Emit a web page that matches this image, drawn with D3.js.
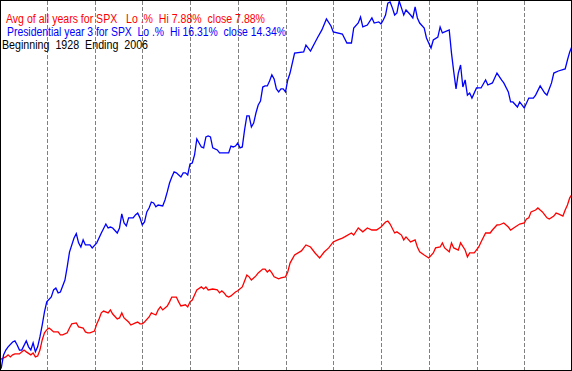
<!DOCTYPE html>
<html>
<head>
<meta charset="utf-8">
<script src="https://cdn.jsdelivr.net/npm/d3@7"></script>
<style>
  body { margin: 0; background: #fff; }
  svg { display: block; }
  text { font-family: "Liberation Sans", Arial, sans-serif; font-size: 12px; white-space: pre; }
</style>
</head>
<body>
<svg id="chart" width="572" height="371"></svg>
<script>
// trading day of the year -> cumulative % change
const avgDays = [0,1,3,4,5,6,7,9,10,11,12,14,15,16,17,18,19,20,21,22,23,24,26,27,28,30,31,32,34,35,37,38,39,40,42,43,44,45,46,48,49,50,52,53,54,55,56,57,58,60,61,62,63,64,66,67,68,69,70,71,72,74,75,76,78,79,80,82,83,84,85,86,87,89,90,91,92,94,96,97,98,99,100,101,102,104,105,107,108,109,110,111,113,114,116,117,118,119,120,121,123,124,126,127,128,130,133,135,137,139,141,143,145,147,149,151,152,155,156,158,160,162,164,166,168,170,171,172,174,175,177,178,179,181,183,184,185,187,189,191,192,194,195,196,198,199,200,202,203,205,206,207,209,211,212,214,216,217,219,220,222,224,225,227,229,231,232,233,234,236,237,238,239,240,241,242,244,245,246,248,249,250,251,252];
const avgValues = [0.54,0.71,0.80,0.89,0.80,0.89,0.93,0.93,1.02,1.10,1.02,0.89,0.97,0.80,0.84,1.10,1.54,1.85,1.98,2.06,1.98,1.89,1.89,1.76,1.76,1.85,2.06,2.24,2.28,2.11,2.06,1.89,1.85,1.85,1.93,2.24,2.45,2.72,2.80,2.72,2.85,2.67,2.45,2.50,2.72,2.50,2.41,2.32,2.19,2.28,2.32,2.24,2.24,2.32,2.54,2.72,2.67,2.63,2.85,2.98,2.85,3.02,3.20,3.41,3.41,3.20,3.02,3.07,2.98,3.20,3.28,3.50,3.72,3.85,3.76,3.85,3.72,3.76,3.72,3.59,3.68,3.59,3.46,3.41,3.46,3.63,3.68,3.85,4.11,4.37,4.29,4.15,4.33,4.46,4.63,4.63,4.50,4.59,4.46,4.29,4.20,4.24,4.29,4.50,4.89,5.24,5.42,5.68,5.59,5.33,5.11,5.37,5.55,5.81,5.90,5.98,6.03,6.20,6.11,6.42,6.25,6.42,6.33,6.33,6.46,6.68,6.72,6.59,6.20,6.25,6.11,5.90,6.03,5.81,5.90,5.59,5.38,5.24,5.11,5.33,5.55,5.59,5.77,5.55,5.38,5.77,5.55,5.46,5.77,5.46,5.16,5.33,5.33,5.59,5.81,6.20,6.20,6.33,6.55,6.55,6.64,6.46,6.33,6.46,6.59,6.64,6.81,6.86,7.12,7.20,7.29,7.20,7.12,6.99,6.86,6.81,6.94,7.07,7.03,6.94,7.20,7.42,7.73,7.88];

const year3Days = [0,1,2,3,4,6,7,8,9,10,12,13,14,15,16,17,18,19,20,21,23,24,25,26,27,29,30,31,33,34,35,36,37,38,40,41,43,45,47,48,49,50,52,53,54,55,56,57,59,60,61,62,63,64,65,66,67,68,69,70,72,73,74,75,76,77,78,80,81,82,83,84,85,86,87,89,90,91,92,93,94,96,97,98,100,101,102,103,104,105,106,107,108,109,110,111,112,113,114,115,116,117,118,119,120,121,122,123,124,125,126,127,128,130,134,135,137,140,142,144,146,147,151,153,155,156,158,159,160,162,164,165,167,168,169,170,171,172,173,174,175,176,177,178,179,181,182,183,184,185,187,188,190,191,193,194,195,198,199,200,201,202,203,204,205,206,207,208,210,212,214,215,217,219,221,222,224,225,226,228,229,231,233,235,236,238,240,241,243,244,246,249,250,251,252];
const year3Values = [0.23,0.32,0.89,1.10,1.24,1.45,1.50,1.32,1.10,1.10,1.50,1.24,1.10,1.41,1.02,1.24,1.67,2.19,2.76,3.20,3.41,3.72,3.80,3.59,3.63,4.15,4.72,5.37,5.98,6.17,5.77,5.59,5.90,5.68,5.68,5.55,5.77,6.20,6.59,6.42,6.46,6.42,6.20,6.42,7.03,6.64,6.51,6.86,6.86,6.99,7.07,6.86,6.55,6.68,7.12,7.29,7.55,7.51,7.34,7.42,7.38,7.64,7.99,8.38,8.64,8.86,8.82,8.64,8.82,8.82,8.73,9.21,9.25,9.60,10.30,9.95,9.91,10.39,10.43,10.39,9.91,9.82,9.69,9.69,9.69,9.69,9.99,9.95,9.99,10.12,9.91,9.95,10.69,11.30,11.30,10.82,10.99,11.43,11.78,11.95,12.56,12.61,12.61,12.82,13.09,12.91,12.48,12.35,12.48,12.48,12.35,12.87,13.17,14.04,14.09,14.39,14.13,14.70,15.05,15.53,15.22,14.96,14.87,14.48,14.48,15.13,15.35,15.61,15.18,15.26,15.57,15.35,15.40,15.31,15.48,15.70,16.22,16.27,16.01,15.70,15.79,16.31,16.01,15.70,15.92,15.70,15.57,16.05,15.57,15.35,15.13,14.70,14.26,14.61,14.74,15.18,14.92,15.05,14.04,13.22,12.48,13.17,13.52,12.56,12.87,12.21,12.30,12.08,12.52,12.52,12.87,12.65,12.74,13.17,12.87,12.74,12.35,11.91,11.91,11.69,11.91,11.65,12.08,12.08,12.21,12.61,12.30,12.21,12.74,13.17,13.26,13.35,13.74,14.09,14.34];

const monthStarts = [21,42,63,84,105,126,147,168,189,210,231];
const legendLines = [
  { text: "Avg of all years for SPX   Lo .%  Hi 7.88%  close 7.88%", color: "#ff0000" },
  { text: "Presidential year 3 for SPX  Lo .%  Hi 16.31%  close 14.34%", color: "#0000ff" },
  { text: "Beginning  1928  Ending  2006", color: "#000000" }
];

const svg = d3.select("#chart");
const width = +svg.attr("width");
const height = +svg.attr("height");

const x = d3.scaleLinear().domain([0, 252]).range([-1, 572]);
const y = d3.scaleLinear().domain([0.23, 16.31]).range([370, 1]);

svg.append("rect")
  .attr("width", width)
  .attr("height", height)
  .attr("fill", "#fff");

// month separators
svg.append("g")
  .selectAll("line")
  .data(monthStarts)
  .enter()
  .append("line")
  .attr("x1", d => Math.round(x(d)) + 0.5)
  .attr("x2", d => Math.round(x(d)) + 0.5)
  .attr("y1", 1)
  .attr("y2", 370)
  .attr("stroke", "#808080")
  .attr("stroke-dasharray", "4,2")
  .attr("shape-rendering", "crispEdges");

const line = d3.line()
  .x(d => x(d[0]))
  .y(d => y(d[1]));

const series = [
  { days: avgDays, values: avgValues, color: "#ff0000" },
  { days: year3Days, values: year3Values, color: "#0000ff" }
];

series.forEach(s => {
  svg.append("path")
    .datum(s.days.map((d, i) => [d, s.values[i]]))
    .attr("fill", "none")
    .attr("stroke", s.color)
    .attr("stroke-width", 1.3)
    .attr("d", line);
});

// frame
svg.append("rect")
  .attr("x", 0.5)
  .attr("y", 0.5)
  .attr("width", width - 1.5)
  .attr("height", height - 1.5)
  .attr("fill", "none")
  .attr("stroke", "#000")
  .attr("stroke-width", 1)
  .attr("shape-rendering", "crispEdges");
svg.append("path")
  .attr("d", `M${width - 0.5},0V${height - 0.5}H0`)
  .attr("fill", "none")
  .attr("stroke", "#000")
  .attr("shape-rendering", "crispEdges");

// legend text
const legendX = [6, 7, 2];
const legendW = [259, 279, 146];
svg.append("g")
  .selectAll("text")
  .data(legendLines)
  .enter()
  .append("text")
  .attr("x", (d, i) => legendX[i])
  .attr("y", (d, i) => 23 + i * 13)
  .attr("fill", d => d.color)
  .attr("textLength", (d, i) => legendW[i])
  .attr("lengthAdjust", "spacingAndGlyphs")
  .text(d => d.text);
</script>
</body>
</html>
